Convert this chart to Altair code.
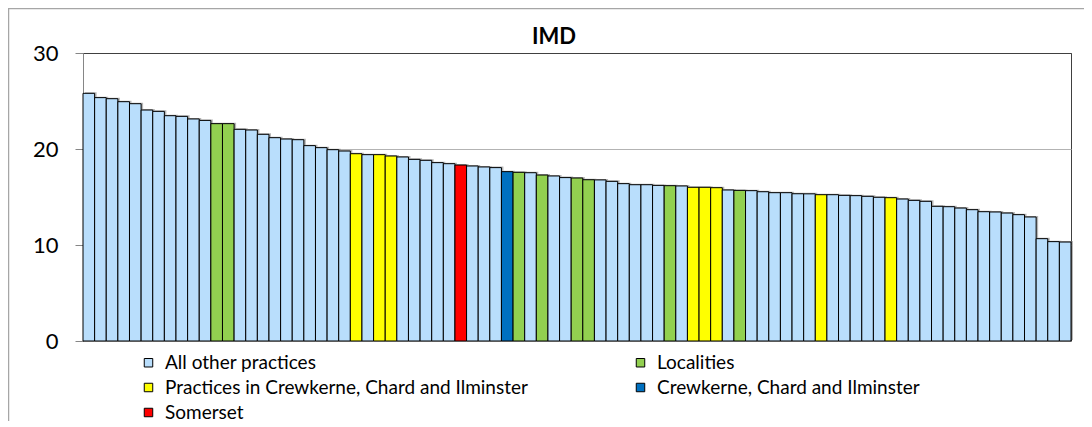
import altair as alt
import pandas as pd

# IMD score per practice / area, in the order drawn (descending)
values = [
    25.8, 25.35, 25.24, 24.93, 24.72, 24.06, 23.92, 23.47, 23.4, 23.13,
    22.98, 22.64, 22.64, 22.05, 21.98, 21.53, 21.18, 21.04, 20.97, 20.35,
    20.14, 19.93, 19.79, 19.51, 19.41, 19.41, 19.27, 19.17, 18.92, 18.82,
    18.58, 18.47, 18.33, 18.23, 18.13, 18.06, 17.64, 17.57, 17.53, 17.29,
    17.19, 17.02, 16.98, 16.8, 16.78, 16.63, 16.39, 16.28, 16.28, 16.21,
    16.18, 16.15, 16.01, 16.01, 15.97, 15.73, 15.69, 15.66, 15.55, 15.45,
    15.45, 15.34, 15.33, 15.24, 15.24, 15.17, 15.14, 15.07, 14.97, 14.93,
    14.79, 14.65, 14.55, 14.03, 13.99, 13.85, 13.68, 13.47, 13.44, 13.33,
    13.16, 12.92, 10.66, 10.35, 10.31,
]

# group code per bar: 0 other, 1 locality, 2 practice in CCI, 3 CCI, 4 Somerset
groups = [
    0, 0, 0, 0, 0, 0, 0, 0, 0, 0,
    0, 1, 1, 0, 0, 0, 0, 0, 0, 0,
    0, 0, 0, 2, 0, 2, 2, 0, 0, 0,
    0, 0, 4, 0, 0, 0, 3, 1, 0, 1,
    0, 0, 1, 1, 0, 0, 0, 0, 0, 0,
    1, 0, 2, 2, 2, 0, 1, 0, 0, 0,
    0, 0, 0, 2, 0, 0, 0, 0, 0, 2,
    0, 0, 0, 0, 0, 0, 0, 0, 0, 0,
    0, 0, 0, 0, 0,
]

categories = [
    "All other practices",
    "Localities",
    "Practices in Crewkerne, Chard and Ilminster",
    "Crewkerne, Chard and Ilminster",
    "Somerset",
]
colors = ["#b9defc", "#92d050", "#ffff00", "#0070c0", "#ff0000"]
# legend fills column by column: order so that it reads row by row like the original
legend_order = [0, 2, 4, 1, 3]
y_ticks = [0, 10, 20, 30]

df = pd.DataFrame({
    "idx": list(range(1, len(values) + 1)),
    "value": values,
    "group": [categories[g] for g in groups],
})

FONT = "Lato"

x_enc = alt.X("idx:O", axis=None,
              scale=alt.Scale(paddingInner=0, paddingOuter=0))
y_enc = alt.Y(
    "value:Q",
    scale=alt.Scale(domain=[0, 30], nice=False),
    axis=alt.Axis(
        values=y_ticks, title=None, grid=True,
        gridColor=alt.condition("datum.value == 30", alt.value("#404040"), alt.value("#b3b3b3")),
        gridWidth=1,
        domainColor="#868686", tickColor="#868686", tickSize=8,
        labelFont=FONT, labelFontSize=22, labelColor="black", labelPadding=17,
    ),
)

base = alt.Chart(df)

shadow = base.mark_bar(color="#7a7a7a", opacity=0.55, xOffset=2, yOffset=-1).encode(
    x=x_enc, y=y_enc
)

bars = base.mark_bar(stroke="black", strokeWidth=1).encode(
    x=x_enc,
    y=y_enc,
    color=alt.Color(
        "group:N",
        scale=alt.Scale(domain=[categories[i] for i in legend_order],
                        range=[colors[i] for i in legend_order]),
        legend=alt.Legend(
            title=None, orient="none", legendX=56, legendY=300,
            columns=2, columnPadding=103, rowPadding=5, padding=0,
            symbolType="square", symbolSize=72,
            symbolStrokeColor="black", symbolStrokeWidth=1, symbolOpacity=1,
            labelFont=FONT, labelFontSize=19, labelColor="black", labelOffset=7,
            labelLimit=600,
        ),
    ),
)

frame = alt.Chart(pd.DataFrame({"f": [0]})).mark_rect(
    fillOpacity=0, stroke="#a6a6a6", strokeWidth=1.5
).encode(
    x=alt.value(-74.5), x2=alt.value(1100), y=alt.value(-44.5), y2=alt.value(600)
)

chart = alt.layer(frame, shadow, bars).properties(
    width=988,
    height=288,
    padding={"left": 75, "top": 45, "right": 13, "bottom": 80},
    autosize=alt.AutoSizeParams(type="none"),
    title=alt.TitleParams(
        "IMD", font=FONT, fontSize=22, fontWeight="bold", color="black",
        anchor="middle", frame="group", dx=-23, dy=66, offset=8, baseline="alphabetic",
    ),
).configure_view(stroke="#404040", strokeWidth=1)

chart.save("out.html", embed_options={"renderer": "svg", "actions": False})
